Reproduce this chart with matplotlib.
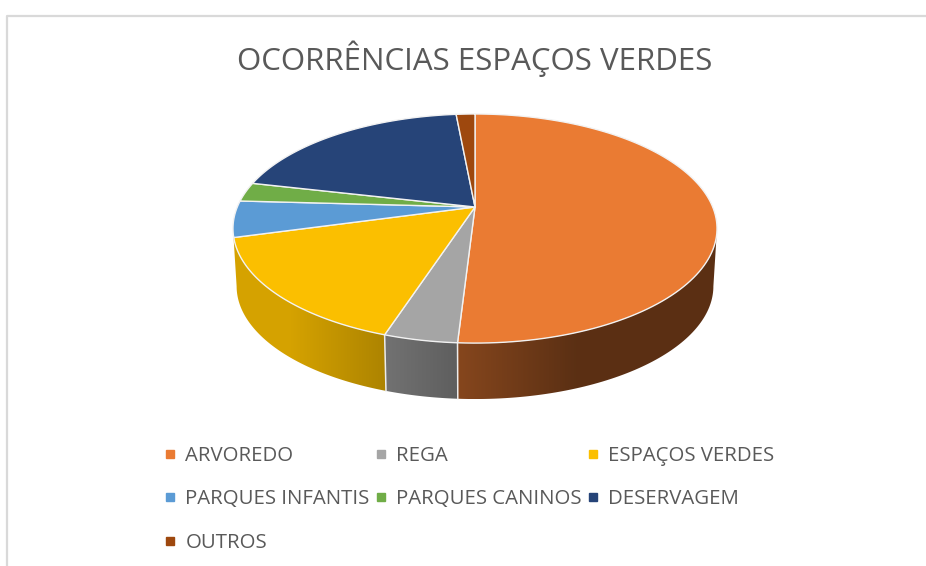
import matplotlib
matplotlib.use('Agg')

import numpy as np
import matplotlib.pyplot as plt
from matplotlib.lines import Line2D
from matplotlib.patches import Polygon

categories = ['ARVOREDO', 'REGA', 'ESPAÇOS VERDES', 'PARQUES INFANTIS',
              'PARQUES CANINOS', 'DESERVAGEM', 'OUTROS']
values = [50.9, 4.1, 15.7, 5.1, 2.7, 19.9, 1.5]
colors = ['#ea7b33', '#a5a5a5', '#fbbf00', '#5b9bd5', '#70ad47', '#264478', '#9e480e']
title = 'OCORRÊNCIAS ESPAÇOS VERDES'

# the pie is a tilted disc, seen in perspective
cx, cy = 475, 207
r = 237.7
a = 110.5
k = -0.188
depth = 58
shrink = 0.985

# where the wall disappears behind the top face
wall_from = np.radians(100.8)
wall_to = np.radians(259.2)

# side wall shading, left to right
shade_x = [240, 290, 385, 458, 575, 716]
shade_f = [0.85, 0.85, 0.69, 0.57, 0.39, 0.39]

txt = '#595959'
plt.rcParams['font.family'] = ['Open Sans', 'DejaVu Sans']


def project(theta, s=1.0, dy=0.0):
    # theta in radians, clockwise from the top
    u = np.sin(theta)
    v = -np.cos(theta)
    w = 1 + k * v
    return cx + s * r * u / w, cy + s * a * v / w + dy


fig = plt.figure(figsize=(9.26, 5.66), dpi=100)
ax = fig.add_axes([0, 0, 1, 1])
ax.axis('off')

# screenshot border
ax.plot([926, 6.5, 6.5], [15.5, 15.5, 566], color='#d9d9d9', lw=1.6)

edges = np.cumsum([0] + values) / sum(values) * 2 * np.pi

# walls: only the first three slices face the viewer
for i in range(3):
    t0 = max(edges[i], wall_from)
    t1 = edges[i + 1] if i < 2 else wall_to
    t = np.linspace(t0, t1, 80)
    xt, yt = project(t)
    xb, yb = project(t, shrink, depth)
    poly = Polygon(np.c_[np.r_[xt, xb[::-1]], np.r_[yt, yb[::-1]]], closed=True,
                   facecolor='none', edgecolor='none', transform=ax.transData)
    ax.add_patch(poly)
    x0 = min(xt.min(), xb.min())
    x1 = max(xt.max(), xb.max())
    xs = np.linspace(x0, x1, 256)
    grad = np.outer(np.interp(xs, shade_x, shade_f), matplotlib.colors.to_rgb(colors[i]))
    y0 = min(yt.min(), yb.min())
    y1 = max(yt.max(), yb.max())
    im = ax.imshow(grad[np.newaxis, :, :], extent=[x0, x1, y1, y0], aspect='auto',
                   interpolation='bilinear', zorder=2)
    im.set_clip_path(poly)

ax.set_xlim(0, 926)
ax.set_ylim(566, 0)

# white lines between the wall pieces
for e in edges[1:3]:
    x0, y0 = project(e)
    x1, y1 = project(e, shrink, depth)
    ax.plot([x0, x1], [y0, y1], color='#ececec', lw=1.1, zorder=3)

# top face
for i, c in enumerate(colors):
    t = np.linspace(edges[i], edges[i + 1], 120)
    x, y = project(t)
    ax.fill(np.r_[cx, x], np.r_[cy, y], facecolor=c, edgecolor='#f2f2f2', lw=1.0,
            joinstyle='round', zorder=4)

ax.text(475, 59, title, ha='center', va='center', fontsize=22.5, color=txt)

handles = [Line2D([], [], ls='none', marker='s', ms=5.6, mfc=c, mec=c, label=n)
           for n, c in zip(categories, colors)]
# legend fills by column, so reorder to read across the rows
order = [0, 3, 6, 1, 4, 2, 5]
leg = ax.legend([handles[i] for i in order], [categories[i] for i in order],
                ncol=3, frameon=False, loc='upper left', bbox_to_anchor=(163 / 926, 1 - 446 / 566),
                fontsize=14.7, labelcolor=txt, handlelength=0.71, handletextpad=0.39,
                columnspacing=0.2, labelspacing=1.15, borderpad=0, borderaxespad=0)

fig.savefig('out.png', dpi=100)
